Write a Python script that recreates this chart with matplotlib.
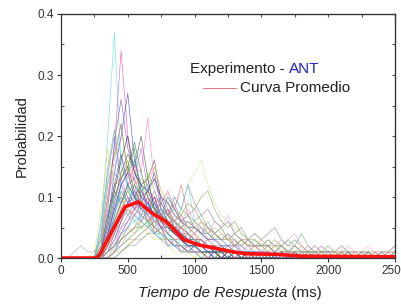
import numpy as np
import matplotlib
matplotlib.use('Agg')
import matplotlib.pyplot as plt
from matplotlib.ticker import MultipleLocator

plt.rcParams['font.family'] = ['Liberation Sans', 'DejaVu Sans']

# time grid of the individual curves (ms), values in hundredths of probability
t = np.arange(0, 2550, 50)

c1 = [0,0,0,0,0, 0,5,20,37,15, 12,8,10,5,6, 3,4,2,3,1, 2,1,1,0,1, 0,1,0,0,0, 0,1,0,0,0, 0,0,1,0,0, 0,0,0,0,0, 0,1,0,0,0, 0]
c2 = [0,0,0,0,0, 0,2,10,18,34, 20,12,8,10,4, 5,2,3,1,2, 1,1,0,1,0, 0,0,1,0,0, 0,0,0,0,1, 0,0,0,0,0, 0,0,0,1,0, 0,0,0,0,1, 0]
c3 = [0,0,0,0,0, 0,1,6,14,20, 27,16,12,8,10, 6,4,3,2,1, 2,1,0,1,0, 1,0,0,0,0, 0,0,1,0,0, 0,0,0,0,0, 0,0,0,0,0, 0,0,0,0,0, 0]
c4 = [0,0,0,0,0, 0,3,12,17,22, 14,18,9,7,5, 4,3,2,2,1, 1,0,1,0,0, 0,0,0,0,0, 0,0,0,0,0, 0,0,0,0,0, 0,0,0,0,0, 0,0,0,0,0, 0]
c5 = [0,0,0,0,0, 0,0,3,9,14, 17,15,20,13,16, 9,7,5,4,3, 2,2,1,1,1, 0,1,0,0,0, 1,0,0,0,0, 0,0,0,0,0, 0,0,0,0,0, 0,0,0,0,0, 0]
c6 = [0,0,0,0,0, 0,0,2,6,10, 12,15,14,23,12, 10,8,6,4,3, 2,2,1,1,0, 1,0,0,1,0, 0,0,0,0,0, 1,0,0,0,0, 0,0,0,0,0, 0,0,0,0,0, 0]
c7 = [0,0,0,0,0, 0,4,15,21,13, 16,10,7,6,4, 3,3,2,1,1, 1,0,0,0,1, 0,0,0,0,0, 0,0,0,0,0, 0,0,0,0,0, 0,0,0,0,0, 0,0,0,0,0, 0]
c8 = [0,0,0,0,0, 0,1,8,19,26, 18,14,11,9,6, 5,3,2,2,1, 1,1,0,0,0, 0,0,0,0,0, 0,0,0,0,0, 0,0,0,0,0, 0,0,0,0,0, 0,0,0,0,0, 0]
c9 = [0,0,0,0,0, 0,0,1,4,8, 11,12,13,12,15, 11,9,8,6,5, 4,3,2,2,1, 1,1,0,1,0, 0,0,1,0,0, 0,0,0,0,0, 0,0,0,0,0, 0,0,0,0,0, 0]
c10 = [0,0,0,0,0, 0,0,2,7,12, 14,16,11,12,9, 10,7,6,5,4, 3,3,2,1,2, 1,1,0,0,1, 0,0,0,0,0, 0,0,1,0,0, 0,0,0,0,0, 0,0,0,0,0, 0]
c11 = [0,0,0,0,0, 0,0,0,1,2, 3,5,6,8,7, 9,10,8,11,12, 14,16,12,9,7, 6,5,4,3,4, 3,2,2,1,2, 1,1,1,0,1, 0,1,0,0,0, 0,0,0,0,0, 0]
c12 = [0,0,0,0,0, 0,0,0,1,3, 4,5,7,6,8, 9,7,10,8,12, 9,7,8,6,5, 6,4,5,3,4, 3,4,5,3,2, 3,2,1,2,1, 1,1,0,1,0, 1,0,0,0,0, 1]
c13 = [0,0,0,0,0, 0,0,1,2,5, 7,8,9,11,10, 9,11,8,12,7, 8,6,5,4,3, 4,2,3,2,2, 1,2,1,1,1, 0,1,0,1,0, 0,0,1,0,0, 0,0,1,0,0, 0]
c14 = [0,0,0,0,0, 0,6,14,20,12, 9,11,6,5,4, 3,2,2,1,1, 1,1,0,0,0, 0,0,0,0,0, 0,0,0,0,0, 0,0,0,0,0, 0,0,0,0,0, 0,0,0,0,0, 0]
c15 = [0,0,0,0,0, 1,8,18,12,10, 8,6,5,4,3, 3,2,1,1,1, 0,1,0,0,0, 0,0,0,0,0, 0,0,0,0,0, 0,0,0,0,0, 0,0,0,0,0, 0,0,0,0,0, 0]
c16 = [0,0,0,0,0, 0,0,4,10,13, 15,19,14,10,8, 6,5,4,3,2, 2,1,1,1,0, 0,1,0,0,0, 0,0,0,0,0, 0,0,0,0,0, 0,0,0,0,0, 0,0,0,0,0, 0]
c17 = [0,0,0,0,0, 0,0,1,3,6, 9,10,12,11,13, 10,9,7,6,5, 5,4,3,3,2, 2,1,1,1,1, 1,0,1,0,0, 1,0,0,0,0, 0,0,0,0,0, 0,0,0,0,0, 0]
c18 = [0,0,0,0,0, 0,0,1,2,4, 6,7,8,7,9, 10,8,7,6,8, 6,5,4,6,5, 7,4,3,3,2, 2,3,2,2,3, 4,2,1,2,1, 1,1,2,1,1, 1,0,1,1,0, 1]
c19 = [0,0,0,0,0, 0,1,7,12,13, 15,11,9,8,7, 5,4,3,3,2, 2,1,1,1,0, 0,0,0,0,0, 0,0,0,0,0, 0,0,0,0,0, 0,0,0,0,0, 0,0,0,0,0, 0]
c20 = [0,0,1,2,1, 1,3,10,14,12, 10,8,7,6,5, 4,3,3,2,2, 1,1,1,0,1, 0,0,0,0,0, 0,0,0,0,0, 0,0,0,0,0, 0,0,0,0,0, 0,0,0,0,0, 0]
c21 = [0,0,0,0,0, 0,0,0,1,3, 5,6,7,9,8, 7,9,10,8,12, 6,5,4,3,2, 2,1,1,1,1, 0,1,0,0,0, 0,0,0,0,0, 0,0,0,0,0, 0,0,0,0,0, 0]
c22 = [0,0,0,0,0, 0,0,0,1,2, 3,4,5,6,7, 8,7,6,8,7, 6,7,5,4,5, 3,4,3,2,3, 2,3,2,2,3, 2,4,2,1,1, 2,1,1,1,0, 1,1,0,1,1, 2]
c23 = [0,0,0,0,0, 0,2,9,16,22, 13,15,10,7,5, 4,3,3,2,1, 1,1,0,0,0, 0,0,0,0,0, 0,0,0,0,0, 0,0,0,0,0, 0,0,0,0,0, 0,0,0,0,0, 0]
c24 = [0,0,0,0,0, 0,0,3,8,12, 14,13,18,11,9, 7,6,5,4,3, 2,2,1,1,1, 0,0,1,0,0, 0,0,0,0,0, 0,0,0,0,0, 0,0,0,0,0, 0,0,0,0,0, 0]
c25 = [0,0,0,0,0, 0,1,5,11,16, 20,14,12,13,8, 6,5,4,3,2, 2,1,1,1,0, 1,0,0,0,0, 0,0,0,0,0, 0,0,0,0,0, 0,0,0,0,0, 0,0,0,0,0, 0]
c26 = [0,0,0,0,0, 0,4,13,21,17, 11,9,8,6,4, 4,2,2,1,1, 1,0,0,0,0, 0,0,0,0,0, 0,0,0,0,0, 0,0,0,0,0, 0,0,0,0,0, 0,0,0,0,0, 0]
c27 = [0,0,0,0,0, 0,0,0,1,2, 4,5,6,7,6, 7,8,6,5,6, 5,4,5,4,3, 3,3,2,3,2, 2,2,1,2,1, 2,1,1,1,2, 1,1,1,2,1, 1,2,1,1,1, 1]
c28 = [0,0,0,0,0, 0,0,2,5,9, 11,12,10,14,11, 8,7,6,5,4, 3,2,2,1,1, 1,0,0,0,0, 0,0,0,0,0, 0,0,0,0,0, 0,0,0,0,0, 0,0,0,0,0, 0]
c29 = [0,0,0,0,0, 0,1,6,12,17, 12,10,9,11,14, 8,6,4,3,2, 2,1,1,0,0, 0,0,0,0,0, 0,0,0,0,0, 0,0,0,0,0, 0,0,0,0,0, 0,0,0,0,0, 0]
c30 = [0,0,0,0,0, 0,0,0,0,1, 2,3,4,5,6, 6,7,8,7,9, 8,10,11,8,6, 5,6,4,3,3, 2,2,3,2,1, 1,1,1,1,0, 1,0,0,1,0, 0,1,0,0,0, 1]
c31 = [0,0,0,0,0, 0,0,2,4,6, 8,7,9,6,7, 5,6,4,5,3, 4,2,3,2,2, 1,2,1,1,2, 1,1,0,1,1, 0,1,0,0,1, 0,0,1,0,0, 0,1,0,0,0, 0]
c32 = [0,0,0,0,0, 0,1,4,8,10, 7,9,11,8,6, 7,5,5,3,4, 2,3,2,1,2, 1,1,1,0,1, 0,0,1,0,0, 0,0,0,1,0, 0,0,0,0,0, 0,0,0,0,0, 0]
c33 = [0,0,0,0,0, 0,0,1,3,5, 6,8,7,10,8, 9,7,6,7,5, 4,5,3,3,2, 2,3,1,2,1, 1,1,1,0,1, 1,0,1,0,0, 1,0,0,0,1, 0,0,0,0,0, 1]
c34 = [0,0,0,0,0, 0,2,7,11,9, 12,10,8,7,9, 6,5,4,4,3, 2,2,2,1,1, 1,1,0,1,0, 0,1,0,0,0, 0,0,0,0,0, 0,0,0,0,0, 0,0,0,0,0, 0]
c35 = [0,0,0,0,0, 0,0,0,2,3, 5,4,6,5,7, 6,8,6,7,5, 6,4,5,3,4, 3,2,3,2,2, 2,1,2,1,1, 2,1,1,0,1, 1,0,1,0,0, 1,0,0,1,0, 0]
c36 = [0,0,0,0,0, 0,1,5,9,13, 10,8,9,7,6, 5,6,4,3,3, 2,2,1,2,1, 1,0,1,0,0, 0,0,0,0,0, 0,0,0,0,0, 0,0,0,0,0, 0,0,0,0,0, 0]
c37 = [0,0,0,0,0, 0,0,1,2,4, 5,7,6,8,9, 7,10,8,6,7, 5,4,4,3,3, 2,2,2,1,1, 1,1,0,1,0, 1,0,0,0,0, 0,0,0,0,0, 0,0,0,0,0, 0]
c38 = [0,0,0,0,0, 0,0,2,6,9, 11,9,12,10,8, 8,6,5,5,4, 3,3,2,2,1, 1,1,1,0,0, 1,0,0,0,0, 0,0,0,0,0, 0,0,0,0,0, 0,0,0,0,0, 0]
c39 = [0,0,0,0,0, 0,0,0,1,2, 3,3,4,5,4, 6,5,7,6,5, 4,6,5,4,5, 3,4,3,3,2, 3,2,2,3,2, 2,1,2,1,2, 1,1,2,1,1, 1,1,0,1,1, 2]
c40 = [0,0,0,0,0, 0,1,3,7,11, 9,12,10,9,7, 8,6,5,4,3, 3,2,2,1,1, 1,1,0,0,0, 0,0,0,1,0, 0,0,0,0,0, 0,0,0,0,0, 0,0,0,0,0, 0]
c41 = [0,0,0,0,0, 0,0,1,4,7, 9,11,9,8,10, 7,6,6,4,4, 3,3,2,2,1, 2,1,1,1,0, 1,0,0,0,0, 0,0,0,0,0, 0,0,0,0,0, 0,0,0,0,0, 0]
c42 = [0,0,0,0,0, 0,0,1,2,3, 4,5,5,6,5, 7,6,5,6,4, 5,4,3,4,3, 3,2,3,2,2, 2,2,1,2,1, 1,1,1,1,1, 1,1,0,1,1, 0,1,1,0,1, 1]
c43 = [0,0,0,0,0, 0,2,6,10,8, 7,6,5,6,4, 4,3,3,2,2, 2,1,1,1,1, 0,1,0,0,0, 0,0,0,0,0, 0,0,0,0,0, 0,0,0,0,0, 0,0,0,0,0, 0]
c44 = [0,0,0,0,0, 0,0,0,1,4, 6,8,10,9,11, 8,7,9,6,6, 5,4,3,3,2, 2,2,1,1,1, 1,1,0,0,1, 0,0,0,0,0, 0,0,0,0,0, 0,0,0,0,0, 0]
c45 = [0,0,0,0,0, 0,0,0,1,1, 2,3,3,4,5, 4,6,5,6,7, 5,6,4,5,4, 3,3,2,3,2, 2,1,2,2,1, 1,2,1,1,1, 0,1,1,0,1, 0,0,1,0,0, 1]
c46 = [0,0,0,0,0, 0,1,4,8,12, 14,10,8,9,7, 5,5,4,3,2, 2,2,1,1,1, 0,1,0,0,0, 0,0,0,0,0, 0,0,0,0,0, 0,0,0,0,0, 0,0,0,0,0, 0]
c47 = [0,0,0,0,0, 0,0,2,5,8, 10,8,11,9,10, 7,8,5,5,4, 3,3,2,2,1, 1,1,1,0,1, 0,0,0,0,0, 0,0,0,0,0, 0,0,0,0,0, 0,0,0,0,0, 0]
c48 = [0,0,0,0,0, 0,0,0,0,1, 2,2,3,4,4, 5,4,6,5,6, 5,4,6,4,3, 4,3,2,3,2, 2,2,1,2,1, 2,1,1,1,1, 1,0,1,1,0, 1,1,0,1,0, 1]
c49 = [0,0,0,0,0, 0,1,3,6,9, 12,13,10,11,8, 7,6,5,4,3, 3,2,2,1,1, 1,1,0,1,0, 0,0,0,0,0, 0,0,0,0,0, 0,0,0,0,0, 0,0,0,0,0, 0]
c50 = [0,0,0,0,0, 0,0,1,3,5, 7,6,8,7,6, 8,5,6,4,5, 3,4,2,3,2, 2,1,2,1,1, 1,1,1,0,1, 0,1,0,0,0, 1,0,0,0,0, 0,0,0,0,0, 0]

curves = [c1, c2, c3, c4, c5, c6, c7, c8, c9, c10, c11, c12, c13, c14, c15,
          c16, c17, c18, c19, c20, c21, c22, c23, c24, c25, c26, c27, c28, c29, c30,
          c31, c32, c33, c34, c35, c36, c37, c38, c39, c40,
          c41, c42, c43, c44, c45, c46, c47, c48, c49, c50]
colors = ['#40e0d0', '#e040a0', '#3030e0', '#30a030', '#404040', '#ff70b0',
          '#a0a030', '#8040c0', '#f0a040', '#20a0a0', '#c0e8a0', '#808080',
          '#e06080', '#6090ff', '#e0e040', '#207020', '#202080', '#e090e0',
          '#a06030', '#a0a0a0', '#60d0e0', '#60b060', '#f08080', '#b060e0',
          '#202020', '#80c0f0', '#f0a0c0', '#90d040', '#5040a0', '#80a040',
          '#d05050', '#50a0d0', '#c080c0', '#308060', '#b0b060', '#e070e0',
          '#4070b0', '#70c070', '#c0a0a0', '#0090c0', '#c06090', '#909050',
          '#60e0b0', '#a070d0', '#d0b070', '#3050c0', '#e05090', '#70a0a0',
          '#606060', '#b0d0f0']

# average curve (red)
mean_t = [0, 275, 480, 580, 680, 790, 920, 1040, 1290, 1380, 1620, 1800, 2500]
mean_p = [0, 0, 0.084, 0.092, 0.074, 0.059, 0.030, 0.021, 0.010, 0.007, 0.006, 0.003, 0.002]

fig = plt.figure(figsize=(4.02, 3.07), dpi=100)
ax = fig.add_axes([0.1517, 0.1596, 0.8308, 0.7948])

for c, col in zip(curves, colors):
    ax.plot(t, np.array(c) / 100.0, color=col, lw=0.5, alpha=0.7)
ax.plot(mean_t, mean_p, color='#ff1010', lw=2.6, solid_joinstyle='round')

ax.set_xlim(0, 2500)
ax.set_ylim(0, 0.4)
ax.xaxis.set_major_locator(MultipleLocator(500))
ax.xaxis.set_minor_locator(MultipleLocator(250))
ax.yaxis.set_major_locator(MultipleLocator(0.1))
ax.yaxis.set_minor_locator(MultipleLocator(0.05))
ax.yaxis.set_major_formatter(plt.FormatStrFormatter('%.1f'))
ax.tick_params(which='major', direction='out', length=3, labelsize=8.5,
               colors='#333333', pad=2)
ax.tick_params(which='minor', direction='in', length=2, colors='#333333')
for s in ax.spines.values():
    s.set_color('#333333')
    s.set_linewidth(0.9)

# mirrored ticks on top and right
top = ax.secondary_xaxis('top')
top.xaxis.set_major_locator(MultipleLocator(250))
top.tick_params(direction='in', length=2, labeltop=False, colors='#555555')
right = ax.secondary_yaxis('right')
right.yaxis.set_major_locator(MultipleLocator(0.05))
right.tick_params(direction='in', length=2, labelright=False, colors='#555555')

# legend-like texts
t1 = ax.text(966, 0.31, 'Experimento - ', fontsize=11, color='#222222', va='center')
ax.annotate('ANT', xycoords=t1, xy=(1, 0), va='bottom', fontsize=11, color='#2020d0')
ax.plot([1063, 1310], [0.2795, 0.2795], color='#e06070', lw=0.6)
ax.text(1340, 0.279, 'Curva Promedio', fontsize=11, color='#222222', va='center')

ax.set_ylabel('Probabilidad', fontsize=10.5, color='#222222', labelpad=6)
xl = fig.text(0.343, 0.046, 'Tiempo de Respuesta', fontsize=11, style='italic',
              color='#222222', va='center')
ax.annotate(' (ms)', xycoords=xl, xy=(1, 0), va='bottom', fontsize=11, color='#222222',
            annotation_clip=False)

fig.savefig('out.png', dpi=100)
